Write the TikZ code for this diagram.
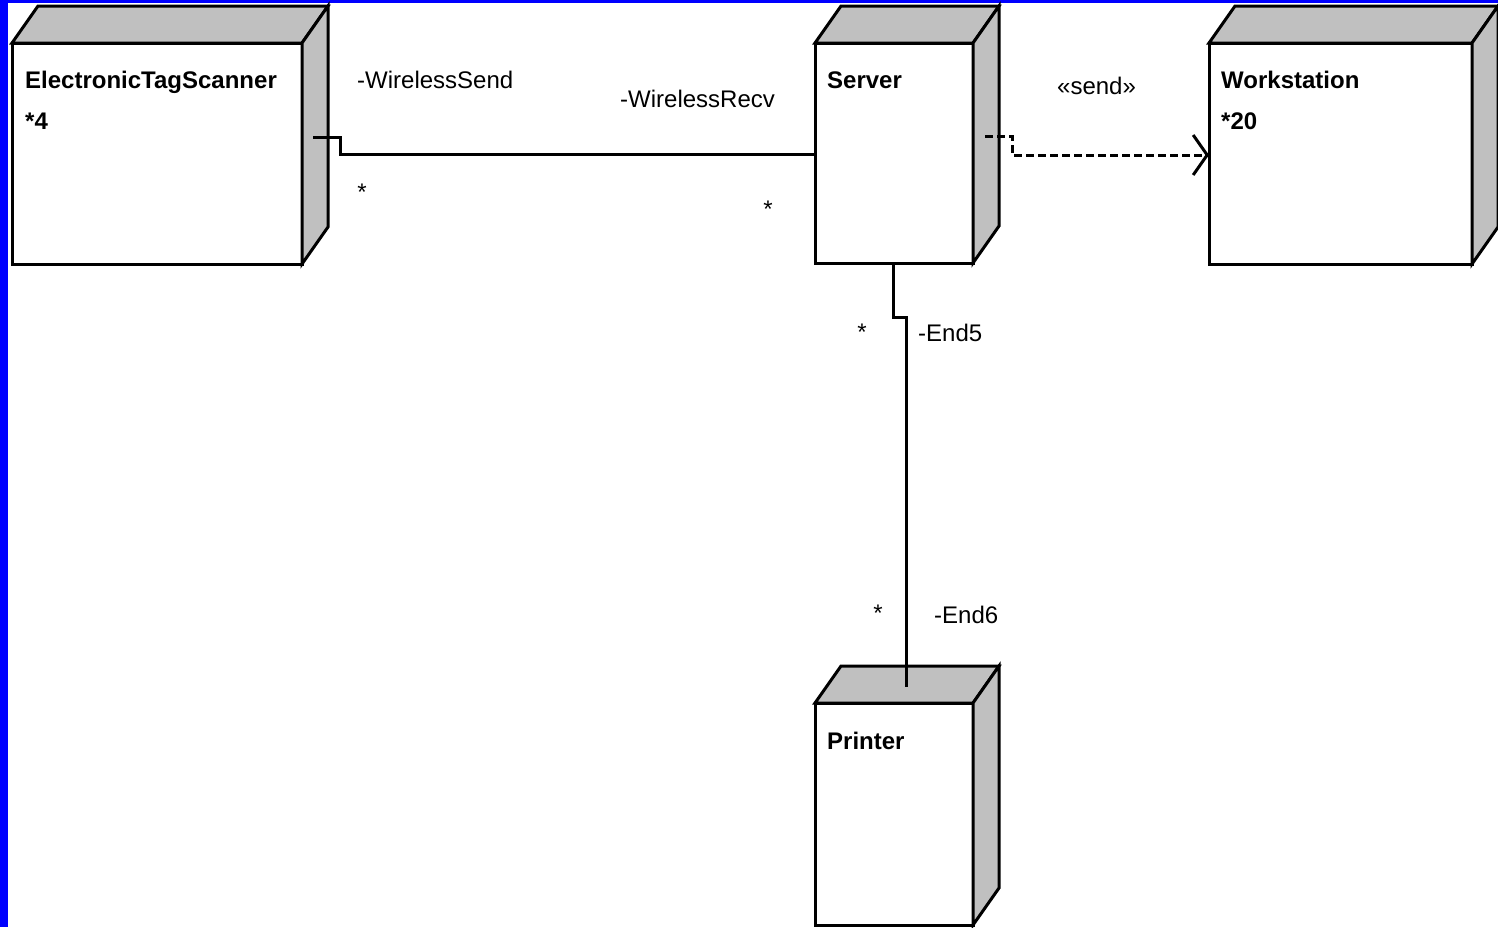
\documentclass[tikz,border=0pt]{standalone}
\usepackage{fontspec}
\setmainfont{Liberation Sans}
\usetikzlibrary{arrows.meta,calc}
\definecolor{sidegray}{HTML}{C0C0C0}
\definecolor{frameblue}{HTML}{0000FF}
\tikzset{
  front/.style={draw=black, fill=white, line width=3pt, rectangle,
    inner sep=0pt, outer sep=0pt, line join=miter},
  face/.style={draw=black, fill=sidegray, line width=3pt, line join=miter},
  title/.style={anchor=base west, inner sep=0pt, font=\fontsize{24}{28}\selectfont\bfseries},
  lbl/.style={anchor=base west, inner sep=0pt, font=\fontsize{24}{28}\selectfont},
  mult/.style={anchor=base, inner sep=0pt, font=\fontsize{24}{28}\selectfont},
  conn/.style={draw=black, line width=3pt},
  dep/.style={conn, dash pattern=on 8pt off 4pt,
    -{Straight Barb[length=14pt,width=40pt,line width=3pt]}}
}
% top and right faces of a 3-D node box
\newcommand\boxfaces[1]{%
  \filldraw[face] (#1.north west) -- ++(26,-37) -- ($(#1.north east)+(26,-37)$) -- (#1.north east) -- cycle;
  \filldraw[face] (#1.north east) -- ++(26,-37) -- ($(#1.south east)+(26,-37)$) -- (#1.south east) -- cycle;
}
\begin{document}
\begin{tikzpicture}[x=1pt, y=-1pt]
\useasboundingbox (0,0) rectangle (1498,927);
\fill[white] (0,0) rectangle (1498,927);
\fill[frameblue] (0,0) rectangle (8,927);
\fill[frameblue] (0,0) rectangle (1498,3);

% nodes (front faces)
\node[front, minimum width=290pt, minimum height=221pt] (scanner) at (157,153.5) {};
\node[front, minimum width=158pt, minimum height=220pt] (server) at (894,153) {};
\node[front, minimum width=263pt, minimum height=221pt] (workstation) at (1340.5,153.5) {};
\node[front, minimum width=158pt, minimum height=222pt] (printer) at (894,814) {};
\boxfaces{scanner}
\boxfaces{server}
\boxfaces{workstation}
\boxfaces{printer}

% node names
\node[title] (scannerName) at (25,88) {ElectronicTagScanner};
\node[title] (scannerCount) at (25,129) {*4};
\node[title] (serverName) at (827,88) {Server};
\node[title] (wsName) at (1221,88) {Workstation};
\node[title] (wsCount) at (1221,129) {*20};
\node[title] (printerName) at (827,749) {Printer};

% connectors
\draw[conn] ($(scanner.north east)+(11,94)$) -- ++(27,0) |- ($(server.north west)+(0,111)$);
\draw[dep] ($(server.north east)+(12,93)$) -- ++(27,0) |- ($(workstation.north west)+(0,112)$);
\draw[conn] ($(server.south)+(-1,0)$) -- ++(0,54) -| ($(printer.north)+(12,-16)$);

% connector labels
\node[lbl] (sendEnd) at (357,88) {-WirelessSend};
\node[mult] (sendMult) at (362,200) {*};
\node[lbl] (recvEnd) at (620,107) {-WirelessRecv};
\node[mult] (recvMult) at (768,217) {*};
\node[lbl] (stereo) at (1057,94) {«send»};
\node[mult] (end5Mult) at (862,340) {*};
\node[lbl] (end5) at (918,341) {-End5};
\node[mult] (end6Mult) at (878,621) {*};
\node[lbl] (end6) at (934,623) {-End6};
\end{tikzpicture}
\end{document}
